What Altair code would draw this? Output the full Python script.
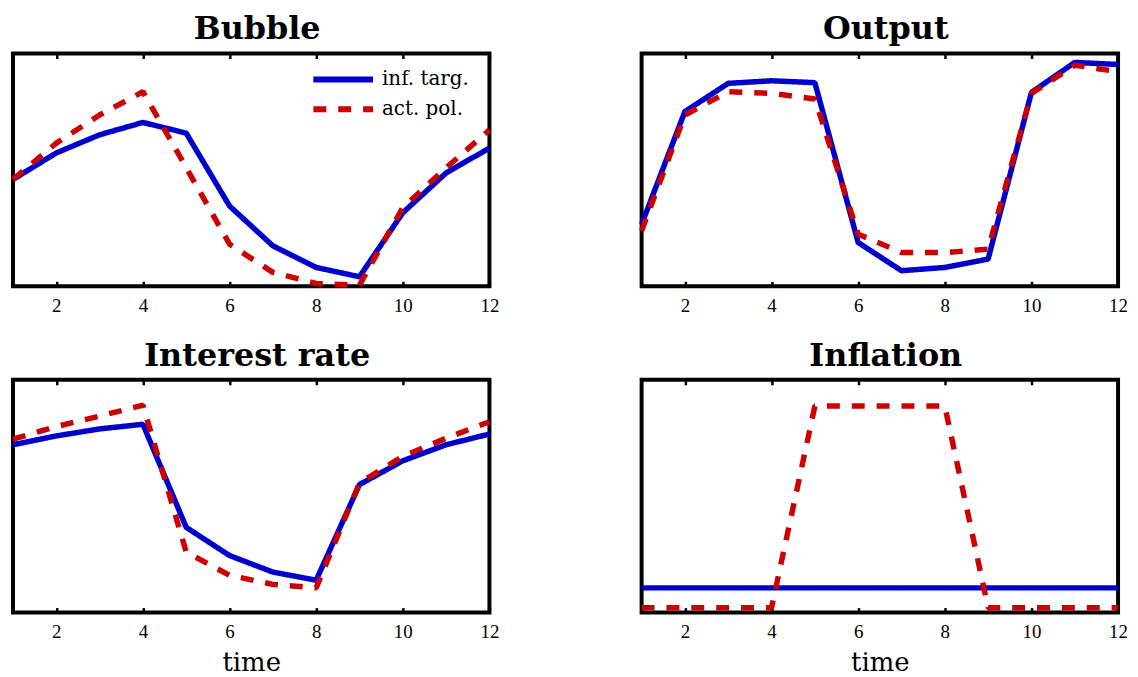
import altair as alt
import pandas as pd

# ---- data (y values are relative positions, axis unlabeled) ----
times = [1, 2, 3, 4, 5, 6, 7, 8, 9, 10, 11, 12]
series_names = ["inf. targ.", "act. pol."]
panel_names = ["Bubble", "Output", "Interest rate", "Inflation"]
tick_values = [2, 4, 6, 8, 10, 12]

bubble_it = [0.459, 0.573, 0.651, 0.704, 0.658, 0.345, 0.174, 0.081, 0.041, 0.316, 0.487, 0.594]
bubble_ap = [0.459, 0.615, 0.736, 0.836, 0.510, 0.181, 0.060, 0.012, 0.005, 0.338, 0.509, 0.672]

output_it = [0.266, 0.751, 0.872, 0.883, 0.875, 0.188, 0.067, 0.081, 0.117, 0.833, 0.962, 0.953]
output_ap = [0.238, 0.736, 0.836, 0.829, 0.805, 0.224, 0.145, 0.145, 0.160, 0.829, 0.950, 0.922]

interest_it = [0.721, 0.759, 0.789, 0.809, 0.366, 0.245, 0.174, 0.139, 0.550, 0.652, 0.721, 0.767]
interest_ap = [0.745, 0.799, 0.844, 0.891, 0.260, 0.160, 0.121, 0.106, 0.557, 0.671, 0.749, 0.820]

inflation_it = [0.106, 0.106, 0.106, 0.106, 0.106, 0.106, 0.106, 0.106, 0.106, 0.106, 0.106, 0.106]
inflation_ap = [0.021, 0.021, 0.021, 0.021, 0.887, 0.887, 0.887, 0.887, 0.021, 0.021, 0.021, 0.021]

series_values = {
    "Bubble": (bubble_it, bubble_ap),
    "Output": (output_it, output_ap),
    "Interest rate": (interest_it, interest_ap),
    "Inflation": (inflation_it, inflation_ap),
}

rows = []
for p in panel_names:
    it, ap = series_values[p]
    for t, a, b in zip(times, it, ap):
        rows.append({"panel": p, "series": series_names[0], "t": t, "v": a})
        rows.append({"panel": p, "series": series_names[1], "t": t, "v": b})
df = pd.DataFrame(rows)

BLUE = "#0000cc"
RED = "#cc0000"
W, H = 479, 234


def make_panel(name, show_legend, show_xtitle):
    src = df[df["panel"] == name]
    base = alt.Chart(src)
    xscale = alt.Scale(domain=[1, 12], nice=False, zero=False)
    yscale = alt.Scale(domain=[0, 1], nice=False, zero=False)
    if show_legend:
        leg = alt.Legend(
            title=None, orient="none", legendX=299, legendY=8,
            symbolType="M-1,0H3", symbolSize=900, symbolStrokeWidth=6,
            symbolFillColor="transparent",
            labelFont="DejaVu Serif", labelFontSize=20, labelColor="black",
            labelOffset=36, rowPadding=-8, padding=0, labelLimit=300,
        )
    else:
        leg = None
    color = alt.Color("series:N", scale=alt.Scale(domain=series_names, range=[BLUE, RED]), legend=leg)
    dash = alt.StrokeDash("series:N", scale=alt.Scale(domain=series_names, range=[[1, 0], [13, 12]]), legend=leg)
    bottom_axis = alt.Axis(
        orient="bottom", values=tick_values, offset=-5, tickSize=5, tickWidth=2.5,
        tickColor="black", domain=False, grid=False, labelFlush=False,
        minExtent=0, labelOverlap=False,
        labelFont="Liberation Serif", labelFontSize=19, labelColor="black", labelPadding=10,
        title="time" if show_xtitle else None,
        titleFont="DejaVu Serif", titleFontSize=26, titleFontWeight="normal",
        titleColor="black", titlePadding=8,
    )
    top_axis = alt.Axis(
        orient="top", values=tick_values, offset=-5, tickSize=5, tickWidth=2.5,
        tickColor="black", domain=False, grid=False, labels=False, title=None,
        minExtent=0,
    )
    l1 = base.transform_filter(alt.datum.series == series_names[0]).mark_line(
        strokeWidth=5.5, strokeCap="butt", strokeJoin="bevel"
    ).encode(
        x=alt.X("t:Q", scale=xscale, axis=bottom_axis),
        y=alt.Y("v:Q", scale=yscale, axis=None),
        color=color, strokeDash=dash,
    )
    l2 = base.transform_filter(alt.datum.series == series_names[1]).mark_line(
        strokeWidth=5.5, strokeCap="butt", strokeJoin="bevel"
    ).encode(
        x=alt.X("t:Q", scale=xscale, axis=top_axis),
        y=alt.Y("v:Q", scale=yscale, axis=None),
        color=color, strokeDash=dash,
    )
    return alt.layer(l1, l2).resolve_axis(x="independent").properties(
        width=W, height=H,
        title=alt.Title(
            name, font="DejaVu Serif", fontSize=32, fontWeight="bold", color="black",
            anchor="middle", baseline="alphabetic", offset=-19, dx=6,
        ),
    )


p1 = make_panel("Bubble", True, False)
p2 = make_panel("Output", False, False)
p3 = make_panel("Interest rate", False, True)
p4 = make_panel("Inflation", False, True)

chart = alt.concat(
    p1, p2, p3, p4, columns=2, spacing={"row": 94, "column": 153}, bounds="flush"
).resolve_legend(
    color="independent", strokeDash="independent"
).properties(
    padding={"left": 0, "top": 1, "right": 0, "bottom": 0}
).configure_view(
    stroke="black", strokeWidth=4
)

chart.save("out.html", embed_options={"renderer": "svg", "actions": False})
